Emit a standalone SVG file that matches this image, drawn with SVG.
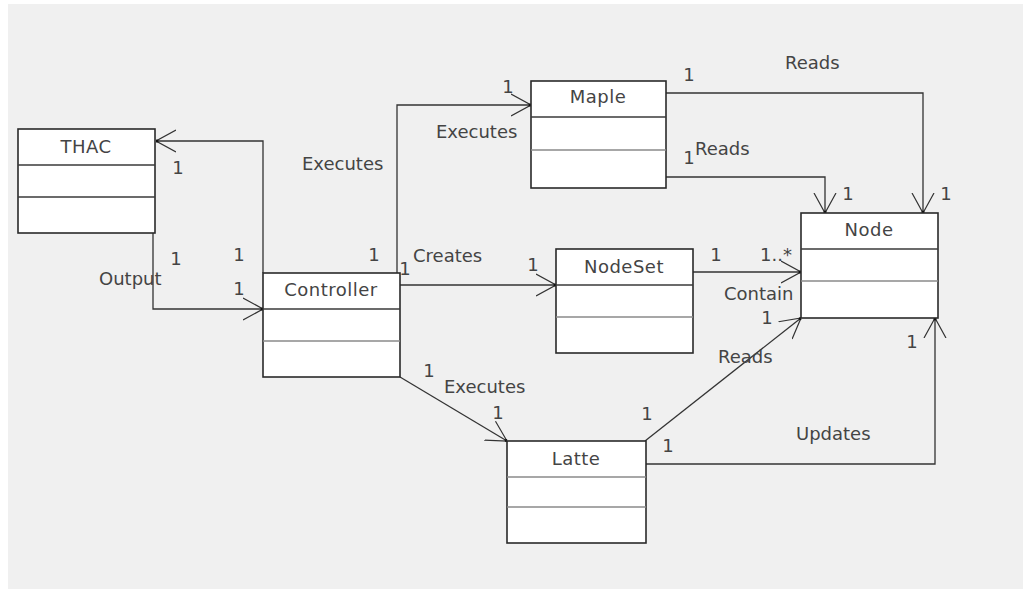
<svg xmlns="http://www.w3.org/2000/svg" width="1023" height="589" viewBox="0 0 1023 589">
<defs>
<style>
.box{fill:#fff;stroke:#2a2a2a;stroke-width:1.6}
.d1{stroke:#3a3a3a;stroke-width:1.4}
.d2{stroke:#8a8a8a;stroke-width:1.4}
.name{font-family:"DejaVu Sans",sans-serif;font-size:18px;letter-spacing:0.5px;fill:#444;text-anchor:middle}
.lbl{font-family:"DejaVu Sans",sans-serif;font-size:18px;fill:#444}
.m{text-anchor:middle}
.conn{fill:none;stroke:#333;stroke-width:1.3;marker-end:url(#arr)}
</style>
<marker id="arr" viewBox="0 0 20 24" refX="20" refY="12" markerWidth="20" markerHeight="24" markerUnits="userSpaceOnUse" orient="auto">
<path d="M0,1 L20,12 L0,23" fill="none" stroke="#333" stroke-width="1.2"/>
<circle cx="19" cy="12" r="1.5" fill="#111"/>
</marker>
</defs>
<rect x="0" y="0" width="1023" height="589" fill="#fff"/>
<rect x="8" y="4" width="1015" height="585" fill="#f0f0f0"/>

<g id="connectors">
<path class="conn" d="M263,273 V141 H156"/>
<path class="conn" d="M153,233 V309 H263"/>
<path class="conn" d="M397,273 V105 H531"/>
<path class="conn" d="M400,285 H556"/>
<path class="conn" d="M693,272 H801"/>
<path class="conn" d="M666,93 H923 V213"/>
<path class="conn" d="M666,177 H825 V213"/>
<path class="conn" d="M400,377 L507,441"/>
<path class="conn" d="M645,441 L801,318"/>
<path class="conn" d="M645,464 H935 V318"/>
</g>

<g id="THAC">
<rect class="box" x="18" y="129" width="137" height="104"/>
<line class="d1" x1="18" y1="165" x2="155" y2="165"/>
<line class="d1" x1="18" y1="197" x2="155" y2="197"/>
<text class="name" x="86" y="153">THAC</text>
</g>

<g id="Controller">
<rect class="box" x="263" y="273" width="137" height="104"/>
<line class="d1" x1="263" y1="309" x2="400" y2="309"/>
<line class="d2" x1="263" y1="341" x2="400" y2="341"/>
<text class="name" x="331" y="296">Controller</text>
</g>

<g id="Maple">
<rect class="box" x="531" y="81" width="135" height="107"/>
<line class="d1" x1="531" y1="117" x2="666" y2="117"/>
<line class="d2" x1="531" y1="150" x2="666" y2="150"/>
<text class="name" x="598" y="103">Maple</text>
</g>

<g id="NodeSet">
<rect class="box" x="556" y="249" width="137" height="104"/>
<line class="d1" x1="556" y1="285" x2="693" y2="285"/>
<line class="d2" x1="556" y1="317" x2="693" y2="317"/>
<text class="name" x="624" y="273">NodeSet</text>
</g>

<g id="Node">
<rect class="box" x="801" y="213" width="137" height="105"/>
<line class="d1" x1="801" y1="249" x2="938" y2="249"/>
<line class="d2" x1="801" y1="281" x2="938" y2="281"/>
<text class="name" x="869" y="236">Node</text>
</g>

<g id="Latte">
<rect class="box" x="507" y="441" width="139" height="102"/>
<line class="d2" x1="507" y1="477" x2="646" y2="477"/>
<line class="d2" x1="507" y1="507" x2="646" y2="507"/>
<text class="name" x="576" y="465">Latte</text>
</g>

<g id="labels">
<text class="lbl m" x="178" y="174">1</text>
<text class="lbl" x="302" y="170">Executes</text>
<text class="lbl m" x="176" y="265">1</text>
<text class="lbl m" x="239" y="261">1</text>
<text class="lbl" x="99" y="285">Output</text>
<text class="lbl m" x="239" y="295">1</text>
<text class="lbl m" x="374" y="261">1</text>
<text class="lbl" x="413" y="262">Creates</text>
<text class="lbl m" x="405" y="275">1</text>
<text class="lbl m" x="533" y="271">1</text>
<text class="lbl m" x="716" y="261">1</text>
<text class="lbl" x="760" y="261">1..*</text>
<text class="lbl" x="724" y="300">Contain</text>
<text class="lbl m" x="767" y="324">1</text>
<text class="lbl m" x="508" y="93">1</text>
<text class="lbl" x="436" y="138">Executes</text>
<text class="lbl m" x="689" y="81">1</text>
<text class="lbl" x="785" y="69">Reads</text>
<text class="lbl m" x="689" y="164">1</text>
<text class="lbl" x="695" y="155">Reads</text>
<text class="lbl m" x="848" y="200">1</text>
<text class="lbl m" x="946" y="200">1</text>
<text class="lbl m" x="429" y="377">1</text>
<text class="lbl" x="444" y="393">Executes</text>
<text class="lbl m" x="498" y="419">1</text>
<text class="lbl m" x="647" y="420">1</text>
<text class="lbl m" x="668" y="452">1</text>
<text class="lbl" x="718" y="363">Reads</text>
<text class="lbl m" x="912" y="348">1</text>
<text class="lbl" x="796" y="440">Updates</text>
</g>
</svg>
